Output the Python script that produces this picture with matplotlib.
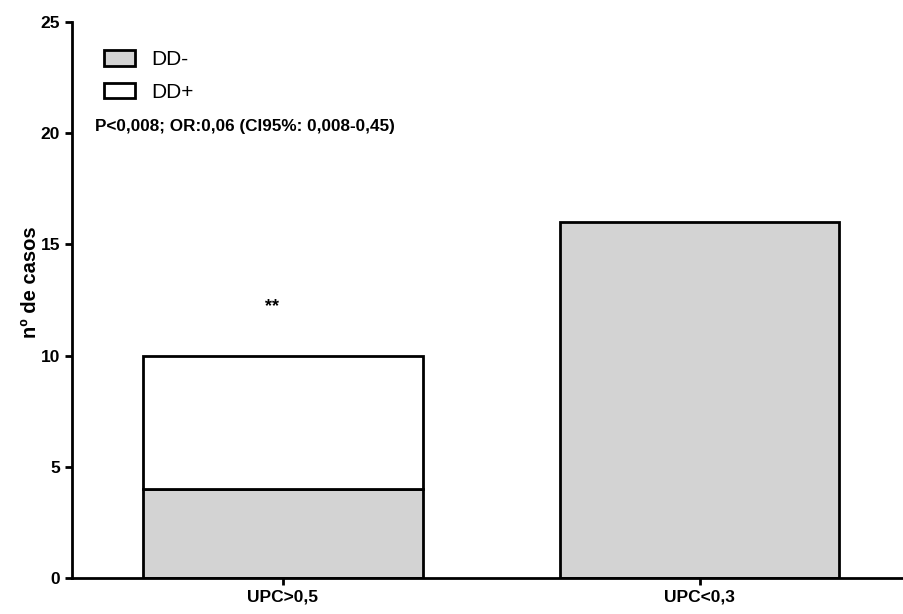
import matplotlib.pyplot as plt
from matplotlib.patches import Patch

plt.rcParams['font.family'] = ['Liberation Sans', 'DejaVu Sans']

categories = ['UPC>0,5', 'UPC<0,3']
dd_neg = [4, 16]
dd_pos = [6, 0]
stat_text = 'P<0,008; OR:0,06 (CI95%: 0,008-0,45)'

fig = plt.figure(figsize=(9.04, 6.14), dpi=100)
ax = fig.add_axes([0.0796, 0.0586, 0.9204, 0.9055])

x = [0, 1]
gray = '#d3d3d3'
ax.bar(x, dd_neg, width=0.67, color=gray, edgecolor='black', linewidth=2)
ax.bar(x[0], dd_pos[0], bottom=dd_neg[0], width=0.67, color='white',
       edgecolor='black', linewidth=2)

ax.text(x[0] - 0.025, 12.2, '**', ha='center', va='center', fontsize=13, fontweight='bold')
ax.text(-0.45, 20.3, stat_text, ha='left', va='center', fontsize=12.3, fontweight='bold')

ax.set_xlim(-0.506, 1.49)
ax.set_ylim(0, 25)
ax.set_yticks([0, 5, 10, 15, 20, 25])
ax.set_xticks(x)
ax.set_xticklabels(categories)
for lab in ax.get_xticklabels() + ax.get_yticklabels():
    lab.set_fontweight('bold')
ax.tick_params(labelsize=12.5, width=2, length=5)
ax.set_ylabel('nº de casos', fontsize=14.5, fontweight='bold')
ax.yaxis.set_label_coords(-0.039, 0.532)

for s in ['top', 'right']:
    ax.spines[s].set_visible(False)
for s in ['left', 'bottom']:
    ax.spines[s].set_linewidth(2)

handles = [Patch(facecolor=gray, edgecolor='black', linewidth=2, label='DD-'),
           Patch(facecolor='white', edgecolor='black', linewidth=2, label='DD+')]
ax.legend(handles=handles, loc='upper left', bbox_to_anchor=(0.103, 0.935),
          bbox_transform=fig.transFigure, frameon=False, fontsize=15,
          handlelength=1.5, handleheight=0.75, labelspacing=0.65, handletextpad=0.8,
          borderpad=0)

fig.savefig('out.png', dpi=100)
